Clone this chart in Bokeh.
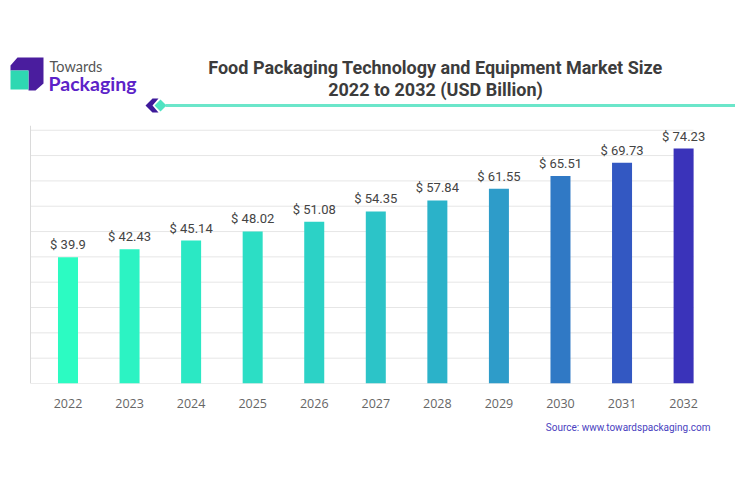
from bokeh.plotting import figure
from bokeh.models import ColumnDataSource, FixedTicker, Range1d
from bokeh.layouts import column
from bokeh.embed import file_html
from bokeh.resources import INLINE
from bokeh.core.properties import value

# ---- data ----
years = ["2022", "2023", "2024", "2025", "2026", "2027", "2028", "2029", "2030", "2031", "2032"]
market_size = [39.9, 42.43, 45.14, 48.02, 51.08, 54.35, 57.84, 61.55, 65.51, 69.73, 74.23]
value_labels = ["$ 39.9", "$ 42.43", "$ 45.14", "$ 48.02", "$ 51.08", "$ 54.35",
                "$ 57.84", "$ 61.55", "$ 65.51", "$ 69.73", "$ 74.23"]
grid_ticks = [8, 16, 24, 32, 40, 48, 56, 64, 72, 80]

title_line1 = "Food Packaging Technology and Equipment Market Size"
title_line2 = "2022 to 2032 (USD Billion)"
source_text = "Source: www.towardspackaging.com"

# ---- styles ----
bar_colors = ["#2CFBC2", "#2CF3C3", "#2BE8C4", "#2CDEC5", "#2CD2C6", "#2CC4C8",
              "#2BB2C9", "#2E9CC9", "#3079C5", "#3358C2", "#3A33BA"]
FONT = "Roboto"
W = 735

# ---- header ----
header = figure(width=W, height=120, output_backend="svg", toolbar_location=None,
                x_range=Range1d(0, W), y_range=Range1d(120, 0),
                min_border=0, outline_line_color=None)
header.axis.visible = False
header.grid.visible = False

# logo
header.patch([10, 10, 17, 43, 43, 35, 28, 28], [70, 65, 57, 57, 83, 90, 90, 70],
             fill_color="#4A1D9E", line_color=None)
header.quad(left=[10], right=[28], top=[70], bottom=[89], fill_color="#2ED8B2", line_color=None)
header.text(x=[49], y=[66], text=["Towards"], text_font=value("Lato"),
            text_font_size="14.5px", text_color="#555555", text_baseline="middle")
header.text(x=[48], y=[83], text=["Packaging"], text_font=value("Lato"),
            text_font_size="19.5px", text_font_style="bold", text_color="#5C22C8",
            text_baseline="middle")

# decoration
header.patch([152, 145, 152, 158, 152, 158], [98, 105, 112, 112, 105, 98],
             fill_color="#3E1A9A", line_color=None)
header.patch([154, 160, 166, 160], [105, 99, 105, 111], fill_color="#4FE3C2", line_color=None)
header.line([165, W], [105, 105], line_color="#6BE6CA", line_width=3)

# title
header.text(x=[435], y=[67], text=[title_line1], text_font=value(FONT),
            text_font_size="18px", text_font_style="bold", text_color="#3C3C3C",
            text_align="center", text_baseline="middle")
header.text(x=[435], y=[88.5], text=[title_line2], text_font=value(FONT),
            text_font_size="18px", text_font_style="bold", text_color="#3C3C3C",
            text_align="center", text_baseline="middle")

# ---- chart ----
AX_LEFT, AX_RIGHT = -0.609, 10.16   # extent of the plotting box in x-data units
xs = list(range(len(years)))
src = ColumnDataSource(dict(x=xs, top=market_size, label=value_labels, color=bar_colors))

p = figure(width=W, height=290, output_backend="svg", toolbar_location=None,
           x_range=Range1d(-1.0963, 10.843), y_range=Range1d(0, 81.5),
           min_border_left=0, min_border_right=0, min_border_top=5, min_border_bottom=27,
           outline_line_color=None)
p.grid.visible = False
p.yaxis.visible = False

# horizontal grid lines + frame lines
p.segment(x0=AX_LEFT, x1=AX_RIGHT, y0=grid_ticks, y1=grid_ticks,
          line_color="#E6E6E6", line_width=1)
p.segment(x0=[AX_LEFT], x1=[AX_RIGHT], y0=[0], y1=[0], line_color="#DADADA", line_width=1)
p.segment(x0=[AX_LEFT], x1=[AX_LEFT], y0=[0], y1=[81.5], line_color="#DADADA", line_width=1)

p.vbar(x="x", top="top", bottom=0, width=0.325, fill_color="color", line_color=None, source=src)
p.text(x="x", y="top", text="label", source=src, text_font=value(FONT),
       text_font_size="13px", text_color="#444444", text_align="center",
       text_baseline="bottom", y_offset=-5)

p.xaxis.ticker = FixedTicker(ticks=xs)
p.xaxis.major_label_overrides = {i: y for i, y in enumerate(years)}
p.xaxis.major_tick_line_color = None
p.xaxis.minor_tick_line_color = None
p.xaxis.axis_line_color = None
p.xaxis.major_label_text_font = "Open Sans"
p.xaxis.major_label_text_font_size = "12.5px"
p.xaxis.major_label_text_color = "#666666"
p.xaxis.major_label_standoff = 9

# ---- footer ----
footer = figure(width=W, height=75, output_backend="svg", toolbar_location=None,
                x_range=Range1d(0, W), y_range=Range1d(485, 410),
                min_border=0, outline_line_color=None)
footer.axis.visible = False
footer.grid.visible = False
footer.text(x=[710], y=[427], text=[source_text], text_font=value(FONT),
            text_font_size="10px", text_color="#4A3FC0",
            text_align="right", text_baseline="middle")

layout = column(header, p, footer, spacing=0)
open("out.html", "w").write(file_html(layout, INLINE))
